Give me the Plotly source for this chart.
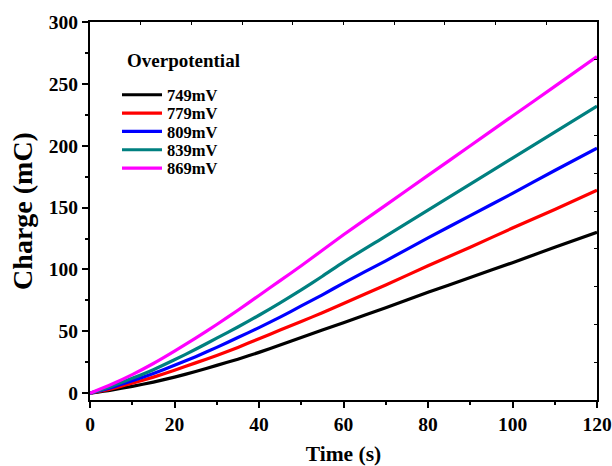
import plotly.graph_objects as go

time_s = [0, 5, 10, 15, 20, 25, 30, 35, 40, 45, 50, 55, 60, 70, 80, 90, 100, 110, 120]
labels = ["749mV", "779mV", "809mV", "839mV", "869mV"]
q749 = [0, 2.5, 5.5, 9, 13, 17.5, 22.5, 27.5, 33, 39, 45, 51, 57, 69, 81.5, 93.5, 105.5, 118, 130]
q779 = [0, 3.5, 8, 13, 18.5, 24.5, 30.5, 37, 44, 51, 58, 65, 72.5, 87.5, 103, 118, 133.5, 148.5, 164]
q809 = [0, 4.5, 10, 16, 22.5, 29.5, 37, 45, 53, 61.5, 70.5, 79.5, 89, 107, 125.5, 143.5, 161.5, 180, 198]
q839 = [0, 5.5, 12, 19, 27, 35.5, 44.5, 53.5, 63, 73, 83.5, 94.5, 106, 127, 148, 169, 190, 211, 232]
q869 = [0, 7, 15, 24, 34, 44.5, 55.5, 67, 79, 91, 103, 115.5, 128, 152, 176, 200, 224, 248, 272]
series = [q749, q779, q809, q839, q869]
colors = ["#000000", "#FF0000", "#0000FF", "#008080", "#FF00FF"]
legend_title = "Overpotential"

FONT = "Liberation Serif"

fig = go.Figure()
legend_ids = ["legend", "legend2", "legend3", "legend4", "legend5"]
for name, ys, c, lid in zip(labels, series, colors, legend_ids):
    fig.add_trace(go.Scatter(x=time_s, y=ys, mode="lines", name=name, legend=lid,
                             line=dict(color=c, width=3.2, shape="spline", smoothing=0.6)))

# invisible trace for the mirrored (top/right) frame axes
fig.add_trace(go.Scatter(x=[0], y=[0], xaxis="x2", yaxis="y2", mode="markers",
                         marker=dict(opacity=0), showlegend=False, hoverinfo="skip"))

# plot area: x 90..597 px, y 22..400 px
PW = 507
entry_px = [95, 113.3, 131.6, 150, 168.3]
legends = {}
for lid, ypx in zip(legend_ids, entry_px):
    legends[lid] = dict(
        x=(117 - 90) / PW, y=(400 - ypx) / 378, xanchor="left", yanchor="middle",
        bgcolor="rgba(0,0,0,0)", borderwidth=0,
        font=dict(family=FONT, size=16.5, color="black", weight="bold"),
        itemwidth=40,
    )

fig.update_layout(
    width=612, height=466,
    margin=dict(l=90, r=15, t=22, b=66, autoexpand=False),
    paper_bgcolor="white", plot_bgcolor="white",
    font=dict(family=FONT, color="black"),
    showlegend=True,
    **legends,
    annotations=[dict(
        text="<b>" + legend_title + "</b>", xref="paper", yref="paper",
        x=(125 - 90) / PW, y=(400 - 61) / 378, xanchor="left", yanchor="middle",
        showarrow=False, font=dict(family=FONT, size=19, color="black"),
    )],
    xaxis=dict(
        range=[0, 120], dtick=20, tick0=0, automargin=False,
        ticklabeloverflow="allow",
        showline=True, linewidth=2, linecolor="black",
        ticks="outside", ticklen=6, tickwidth=2, tickcolor="black",
        minor=dict(dtick=10, ticks="outside", ticklen=3, tickwidth=1.5, tickcolor="black"),
        showgrid=False, zeroline=False,
        tickfont=dict(family=FONT, size=19.5, color="black", weight="bold"),
        title=dict(text="<b>Time (s)</b>", font=dict(family=FONT, size=21.5, color="black"), standoff=14),
    ),
    yaxis=dict(
        range=[-5.5, 300], tickvals=[0, 50, 100, 150, 200, 250, 300], automargin=False,
        showline=True, linewidth=2, linecolor="black",
        ticks="outside", ticklen=6, tickwidth=2, tickcolor="black",
        minor=dict(dtick=25, tick0=0, ticks="outside", ticklen=3, tickwidth=1.5, tickcolor="black"),
        showgrid=False, zeroline=False,
        tickfont=dict(family=FONT, size=19.5, color="black", weight="bold"),
        title=dict(text="<b>Charge (mC)</b>", font=dict(family=FONT, size=28, color="black"), standoff=8),
    ),
    xaxis2=dict(
        overlaying="x", side="top", anchor="y", range=[0, 10], dtick=1, automargin=False,
        showline=True, linewidth=2, linecolor="black",
        ticks="inside", ticklen=3, tickwidth=1, tickcolor="black",
        showticklabels=False, showgrid=False, zeroline=False,
    ),
    yaxis2=dict(
        overlaying="y", side="right", anchor="x", range=[0, 10], dtick=1, automargin=False,
        showline=True, linewidth=2, linecolor="black",
        ticks="inside", ticklen=3, tickwidth=1, tickcolor="black",
        showticklabels=False, showgrid=False, zeroline=False,
    ),
)

fig.write_html("out.html")
